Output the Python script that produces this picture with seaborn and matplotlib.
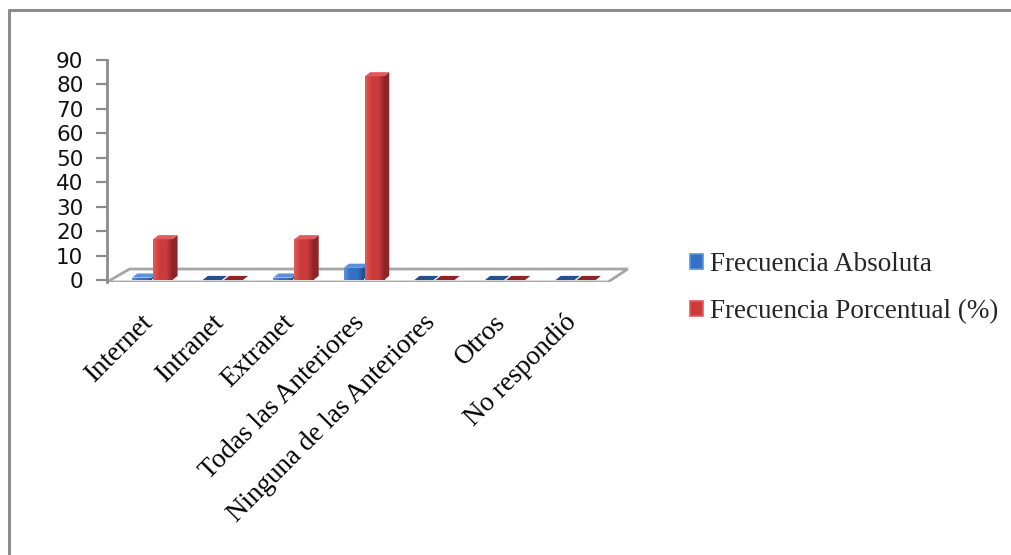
import matplotlib
matplotlib.use("Agg")
import matplotlib.pyplot as plt
from matplotlib.patches import Polygon, Patch
from matplotlib.lines import Line2D
from matplotlib.transforms import ScaledTranslation
import numpy as np
import pandas as pd
import seaborn as sns

# ---- data ----
categorias = ["Internet", "Intranet", "Extranet", "Todas las Anteriores",
              "Ninguna de las Anteriores", "Otros", "No respondió"]
frecuencia_absoluta = [1, 0, 1, 5, 0, 0, 0]
frecuencia_porcentual = [16.67, 0, 16.67, 83.33, 0, 0, 0]
series = ["Frecuencia Absoluta", "Frecuencia Porcentual (%)"]
y_ticks = list(range(0, 91, 10))

colores = ["#3570c4", "#cc3a3c"]
colores_lado = ["#23508f", "#8e2426"]
colores_tapa = ["#5a92dc", "#e05c5c"]

df = pd.DataFrame({
    "categoria": categorias * 2,
    "serie": [series[0]] * len(categorias) + [series[1]] * len(categorias),
    "valor": frecuencia_absoluta + frecuencia_porcentual,
})

sns.set_theme(style="white")
plt.rcParams["font.family"] = ["DejaVu Sans"]

W_PX, H_PX = 1011, 555
fig = plt.figure(figsize=(W_PX / 100, H_PX / 100), dpi=100)
fig.patch.set_facecolor("white")

# plot area in pixels
x_left_px, x_right_px = 107, 632
y_top_px, y_bot_px = 60, 282
ax = fig.add_axes([x_left_px / W_PX, 1 - y_bot_px / H_PX,
                   (x_right_px - x_left_px) / W_PX, (y_bot_px - y_top_px) / H_PX])
ax.set_facecolor("none")

sns.barplot(data=df, x="categoria", y="valor", hue="serie", order=categorias,
            hue_order=series, palette=colores, width=0.6, gap=0.1,
            saturation=1, legend=False, ax=ax)
bars = sorted(list(ax.patches), key=lambda p: p.get_x())

XMIN, XMAX = -0.64, 6.8
YMIN, YMAX = -0.8, 90
ax.set_xlim(XMIN, XMAX)
ax.set_ylim(YMIN, YMAX)

# depth offsets for the pseudo-3D faces
dx, dy = 0.075, 1.7

# floor
floor_front_r = 6.46
floor = Polygon([(XMIN, YMIN), (floor_front_r, YMIN),
                 (floor_front_r + 0.28, YMIN + 5.3), (XMIN + 0.32, YMIN + 5.3)],
                closed=True, facecolor="white", edgecolor="#a6a6a6",
                linewidth=2.0, zorder=0.5)
ax.add_patch(floor)

# 3D faces for every bar
ncat = len(categorias)
for i, bar in enumerate(bars):
    x0 = bar.get_x()
    w = bar.get_width()
    h = bar.get_height()
    s = 0 if bar.get_facecolor()[2] > 0.5 else 1
    z = 2 + i * 0.01
    bar.set_zorder(z)
    bar.set_edgecolor("none")
    bar.set_facecolor(colores[s])
    # horizontal shading on the front face
    if h > 0:
        grad = np.linspace(0, 1, 64).reshape(1, -1)
        cmap = matplotlib.colors.LinearSegmentedColormap.from_list(
            "g", [colores_tapa[s], colores[s], colores[s], colores_lado[s]])
        im = ax.imshow(grad, extent=(x0, x0 + w, 0, h), aspect="auto",
                       cmap=cmap, zorder=z, interpolation="bilinear")
        im.set_clip_path(bar)
    side = Polygon([(x0 + w, 0), (x0 + w + dx, dy), (x0 + w + dx, h + dy), (x0 + w, h)],
                   closed=True, facecolor=colores_lado[s], edgecolor="none", zorder=z + 0.001)
    top = Polygon([(x0, h), (x0 + w, h), (x0 + w + dx, h + dy), (x0 + dx, h + dy)],
                  closed=True, facecolor=colores_tapa[s] if h > 0 else colores_lado[s],
                  edgecolor="none", zorder=z + 0.002)
    ax.add_patch(side)
    ax.add_patch(top)

ax.set_xlim(XMIN, XMAX)
ax.set_ylim(YMIN, YMAX)

# axes styling
for sp in ["top", "right", "bottom"]:
    ax.spines[sp].set_visible(False)
ax.spines["left"].set_color("#8c8c8c")
ax.spines["left"].set_linewidth(2)
ax.spines["left"].set_bounds(YMIN, 90)
ax.set_yticks(y_ticks)
ax.set_yticklabels([str(t) for t in y_ticks])
ax.tick_params(axis="y", left=True, length=8, width=1.6, color="#8c8c8c",
               labelsize=15.5, pad=9, labelcolor="#111111")
ax.set_xticks(range(ncat))
ax.set_xticklabels(categorias, rotation=45, ha="right", va="top",
                   rotation_mode="anchor", family="Liberation Serif", fontsize=19.5)
ax.tick_params(axis="x", bottom=False, length=0, pad=20, labelcolor="black")
shift = ScaledTranslation(-12 / 100, 0, fig.dpi_scale_trans)
for lab in ax.get_xticklabels():
    lab.set_transform(lab.get_transform() + shift)
ax.set_xlabel("")
ax.set_ylabel("")
ax.grid(False)

# legend
handles = [Patch(facecolor=colores[k], edgecolor=colores_tapa[k], linewidth=1.2)
           for k in range(2)]
fig.legend(handles, series, loc="center left",
           bbox_to_anchor=(676 / W_PX, 1 - 288 / H_PX), frameon=False,
           prop={"family": "Liberation Serif", "size": 19.5},
           handlelength=0.5, handleheight=0.5, handletextpad=0.25,
           labelspacing=0.8, borderpad=0)

# outer chart frame (continues past the right and bottom edges)
fig.add_artist(Line2D([9 / W_PX, 9 / W_PX], [1 - 10 / H_PX, 0], color="#8c8c8c",
                      lw=2.2, transform=fig.transFigure))
fig.add_artist(Line2D([9 / W_PX, 1], [1 - 10 / H_PX, 1 - 10 / H_PX], color="#8c8c8c",
                      lw=2.2, transform=fig.transFigure))

fig.savefig("out.png", dpi=100)
